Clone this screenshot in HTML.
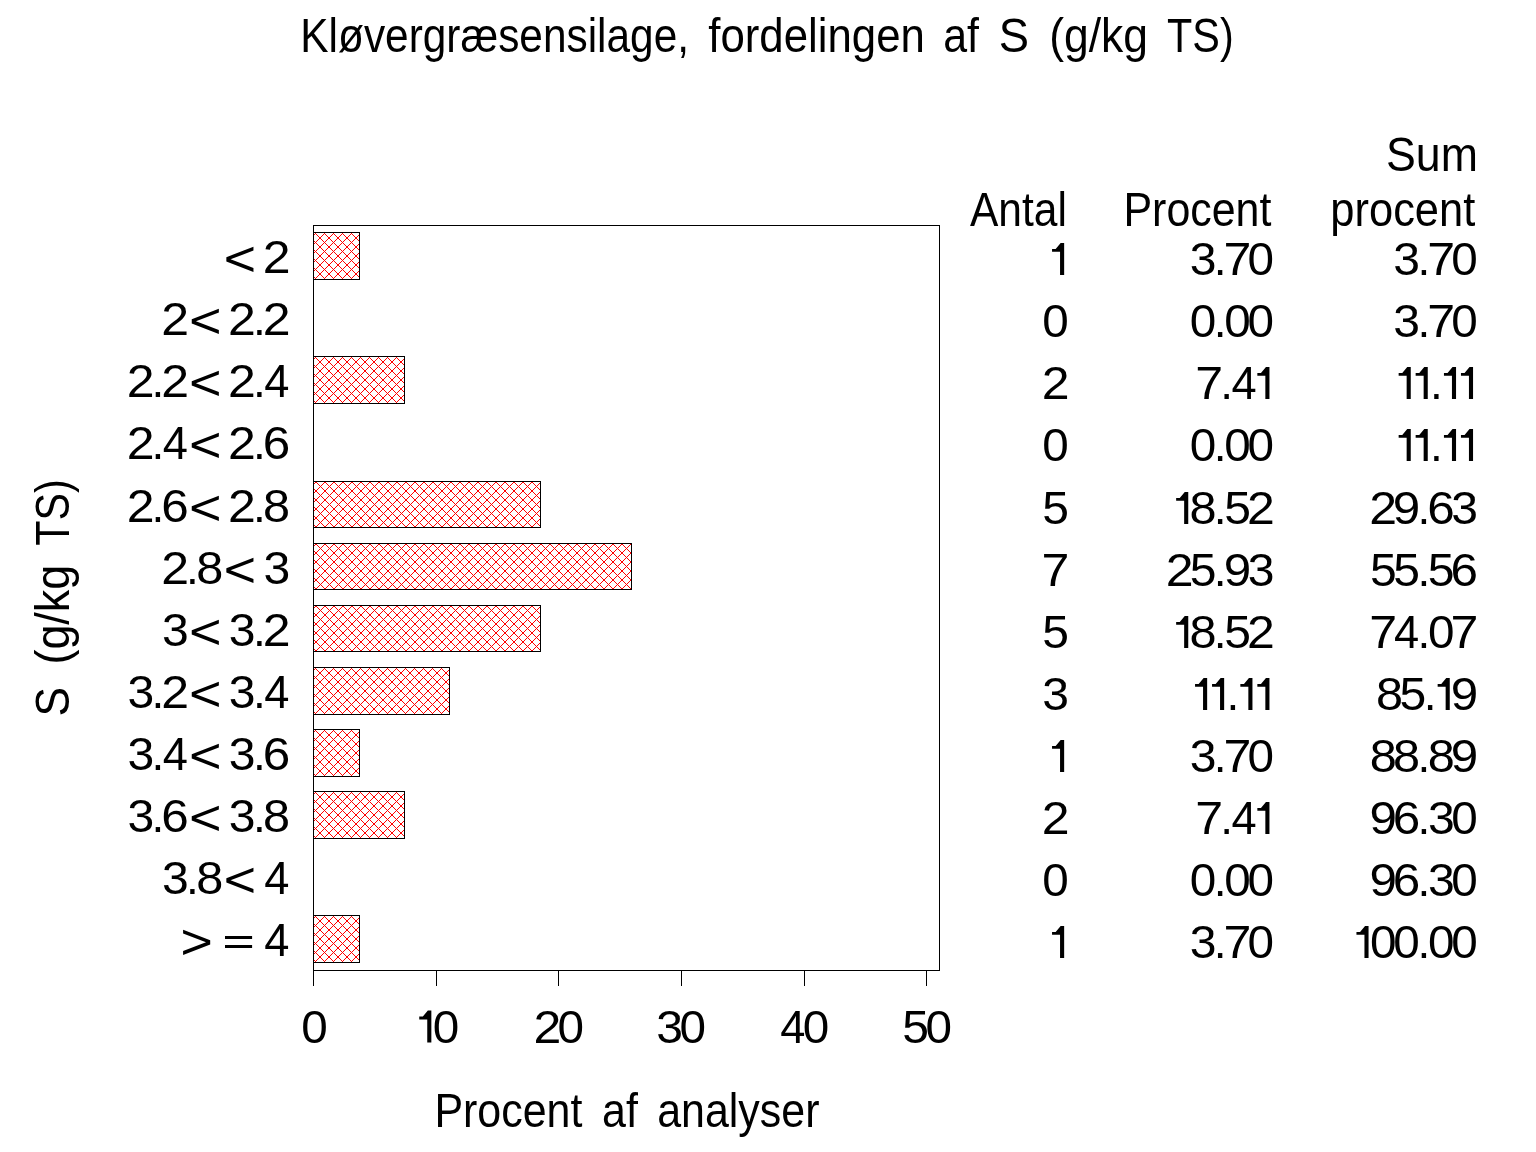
<!DOCTYPE html><html><head><meta charset="utf-8"><style>html,body{margin:0;padding:0;background:#fff;}svg{display:block;will-change:transform;}text{font-family:"Liberation Sans",sans-serif;font-kerning:none;}</style></head><body>
<svg width="1536" height="1152" viewBox="0 0 1536 1152">
<rect width="1536" height="1152" fill="#fff"/>
<defs>
<pattern id="h0" patternUnits="userSpaceOnUse" x="4" y="237" width="9" height="9"><path d="M0 0h1v1h-1zM0 1h1v1h-1zM1 0h1v1h-1zM1 1h1v1h-1zM2 2h1v1h-1zM2 8h1v1h-1zM3 3h1v1h-1zM3 7h1v1h-1zM4 4h1v1h-1zM4 6h1v1h-1zM5 5h1v1h-1zM6 4h1v1h-1zM6 6h1v1h-1zM7 3h1v1h-1zM7 7h1v1h-1zM8 2h1v1h-1zM8 8h1v1h-1z" fill="#f00"/></pattern>
<pattern id="h1" patternUnits="userSpaceOnUse" x="4" y="361" width="9" height="9"><path d="M0 0h1v1h-1zM0 1h1v1h-1zM1 0h1v1h-1zM1 1h1v1h-1zM2 2h1v1h-1zM2 8h1v1h-1zM3 3h1v1h-1zM3 7h1v1h-1zM4 4h1v1h-1zM4 6h1v1h-1zM5 5h1v1h-1zM6 4h1v1h-1zM6 6h1v1h-1zM7 3h1v1h-1zM7 7h1v1h-1zM8 2h1v1h-1zM8 8h1v1h-1z" fill="#f00"/></pattern>
<pattern id="h2" patternUnits="userSpaceOnUse" x="0" y="481" width="9" height="9"><path d="M0 0h1v1h-1zM0 1h1v1h-1zM1 0h1v1h-1zM1 1h1v1h-1zM2 2h1v1h-1zM2 8h1v1h-1zM3 3h1v1h-1zM3 7h1v1h-1zM4 4h1v1h-1zM4 6h1v1h-1zM5 5h1v1h-1zM6 4h1v1h-1zM6 6h1v1h-1zM7 3h1v1h-1zM7 7h1v1h-1zM8 2h1v1h-1zM8 8h1v1h-1z" fill="#f00"/></pattern>
<pattern id="h3" patternUnits="userSpaceOnUse" x="0" y="543" width="9" height="9"><path d="M0 0h1v1h-1zM0 1h1v1h-1zM1 0h1v1h-1zM1 1h1v1h-1zM2 2h1v1h-1zM2 8h1v1h-1zM3 3h1v1h-1zM3 7h1v1h-1zM4 4h1v1h-1zM4 6h1v1h-1zM5 5h1v1h-1zM6 4h1v1h-1zM6 6h1v1h-1zM7 3h1v1h-1zM7 7h1v1h-1zM8 2h1v1h-1zM8 8h1v1h-1z" fill="#f00"/></pattern>
<pattern id="h4" patternUnits="userSpaceOnUse" x="0" y="605" width="9" height="9"><path d="M0 0h1v1h-1zM0 1h1v1h-1zM1 0h1v1h-1zM1 1h1v1h-1zM2 2h1v1h-1zM2 8h1v1h-1zM3 3h1v1h-1zM3 7h1v1h-1zM4 4h1v1h-1zM4 6h1v1h-1zM5 5h1v1h-1zM6 4h1v1h-1zM6 6h1v1h-1zM7 3h1v1h-1zM7 7h1v1h-1zM8 2h1v1h-1zM8 8h1v1h-1z" fill="#f00"/></pattern>
<pattern id="h5" patternUnits="userSpaceOnUse" x="4" y="672" width="9" height="9"><path d="M0 0h1v1h-1zM0 1h1v1h-1zM1 0h1v1h-1zM1 1h1v1h-1zM2 2h1v1h-1zM2 8h1v1h-1zM3 3h1v1h-1zM3 7h1v1h-1zM4 4h1v1h-1zM4 6h1v1h-1zM5 5h1v1h-1zM6 4h1v1h-1zM6 6h1v1h-1zM7 3h1v1h-1zM7 7h1v1h-1zM8 2h1v1h-1zM8 8h1v1h-1z" fill="#f00"/></pattern>
<pattern id="h6" patternUnits="userSpaceOnUse" x="4" y="734" width="9" height="9"><path d="M0 0h1v1h-1zM0 1h1v1h-1zM1 0h1v1h-1zM1 1h1v1h-1zM2 2h1v1h-1zM2 8h1v1h-1zM3 3h1v1h-1zM3 7h1v1h-1zM4 4h1v1h-1zM4 6h1v1h-1zM5 5h1v1h-1zM6 4h1v1h-1zM6 6h1v1h-1zM7 3h1v1h-1zM7 7h1v1h-1zM8 2h1v1h-1zM8 8h1v1h-1z" fill="#f00"/></pattern>
<pattern id="h7" patternUnits="userSpaceOnUse" x="4" y="796" width="9" height="9"><path d="M0 0h1v1h-1zM0 1h1v1h-1zM1 0h1v1h-1zM1 1h1v1h-1zM2 2h1v1h-1zM2 8h1v1h-1zM3 3h1v1h-1zM3 7h1v1h-1zM4 4h1v1h-1zM4 6h1v1h-1zM5 5h1v1h-1zM6 4h1v1h-1zM6 6h1v1h-1zM7 3h1v1h-1zM7 7h1v1h-1zM8 2h1v1h-1zM8 8h1v1h-1z" fill="#f00"/></pattern>
<pattern id="h8" patternUnits="userSpaceOnUse" x="4" y="920" width="9" height="9"><path d="M0 0h1v1h-1zM0 1h1v1h-1zM1 0h1v1h-1zM1 1h1v1h-1zM2 2h1v1h-1zM2 8h1v1h-1zM3 3h1v1h-1zM3 7h1v1h-1zM4 4h1v1h-1zM4 6h1v1h-1zM5 5h1v1h-1zM6 4h1v1h-1zM6 6h1v1h-1zM7 3h1v1h-1zM7 7h1v1h-1zM8 2h1v1h-1zM8 8h1v1h-1z" fill="#f00"/></pattern>
</defs>
<g shape-rendering="crispEdges">
<rect x="313" y="232" width="47" height="48" fill="url(#h0)"/>
<rect x="313.5" y="232.5" width="46" height="47" fill="none" stroke="#000" stroke-width="1"/>
<rect x="313" y="356" width="92" height="48" fill="url(#h1)"/>
<rect x="313.5" y="356.5" width="91" height="47" fill="none" stroke="#000" stroke-width="1"/>
<rect x="313" y="481" width="228" height="47" fill="url(#h2)"/>
<rect x="313.5" y="481.5" width="227" height="46" fill="none" stroke="#000" stroke-width="1"/>
<rect x="313" y="543" width="319" height="47" fill="url(#h3)"/>
<rect x="313.5" y="543.5" width="318" height="46" fill="none" stroke="#000" stroke-width="1"/>
<rect x="313" y="605" width="228" height="47" fill="url(#h4)"/>
<rect x="313.5" y="605.5" width="227" height="46" fill="none" stroke="#000" stroke-width="1"/>
<rect x="313" y="667" width="137" height="48" fill="url(#h5)"/>
<rect x="313.5" y="667.5" width="136" height="47" fill="none" stroke="#000" stroke-width="1"/>
<rect x="313" y="729" width="47" height="48" fill="url(#h6)"/>
<rect x="313.5" y="729.5" width="46" height="47" fill="none" stroke="#000" stroke-width="1"/>
<rect x="313" y="791" width="92" height="48" fill="url(#h7)"/>
<rect x="313.5" y="791.5" width="91" height="47" fill="none" stroke="#000" stroke-width="1"/>
<rect x="313" y="915" width="47" height="48" fill="url(#h8)"/>
<rect x="313.5" y="915.5" width="46" height="47" fill="none" stroke="#000" stroke-width="1"/>
<rect x="313.5" y="225.5" width="626" height="745" fill="none" stroke="#000" stroke-width="1"/>
<line x1="313.5" y1="970" x2="313.5" y2="986" stroke="#000" stroke-width="1"/>
<line x1="436.5" y1="970" x2="436.5" y2="986" stroke="#000" stroke-width="1"/>
<line x1="558.5" y1="970" x2="558.5" y2="986" stroke="#000" stroke-width="1"/>
<line x1="681.5" y1="970" x2="681.5" y2="986" stroke="#000" stroke-width="1"/>
<line x1="804.5" y1="970" x2="804.5" y2="986" stroke="#000" stroke-width="1"/>
<line x1="926.5" y1="970" x2="926.5" y2="986" stroke="#000" stroke-width="1"/>
</g>
<g fill="#000">
<text x="300.32" y="52" font-size="48.0" textLength="388.68" lengthAdjust="spacingAndGlyphs">Kløvergræsensilage,</text>
<text x="708.28" y="52" font-size="48.0" textLength="216.66" lengthAdjust="spacingAndGlyphs">fordelingen</text>
<text x="943.18" y="52" font-size="48.0" textLength="35.76" lengthAdjust="spacingAndGlyphs">af</text>
<text x="998.74" y="52" font-size="48.0" textLength="30.24" lengthAdjust="spacingAndGlyphs">S</text>
<text x="1049.24" y="52" font-size="48.0" textLength="98.82" lengthAdjust="spacingAndGlyphs">(g/kg</text>
<text x="1167.07" y="52" font-size="48.0" textLength="66.59" lengthAdjust="spacingAndGlyphs">TS)</text>
<text x="1386.07" y="170.7" font-size="48.0" textLength="91.87" lengthAdjust="spacingAndGlyphs">Sum</text>
<text x="969.92" y="225.8" font-size="48.0" textLength="96.93" lengthAdjust="spacingAndGlyphs">Antal</text>
<text x="1123.48" y="225.8" font-size="48.0" textLength="147.94" lengthAdjust="spacingAndGlyphs">Procent</text>
<text x="1330.3" y="225.8" font-size="48.0" textLength="145.02" lengthAdjust="spacingAndGlyphs">procent</text>
<text x="434.38" y="1127" font-size="48.0" textLength="148.04" lengthAdjust="spacingAndGlyphs">Procent</text>
<text x="602.07" y="1127" font-size="48.0" textLength="35.86" lengthAdjust="spacingAndGlyphs">af</text>
<text x="657.18" y="1127" font-size="48.0" textLength="162.34" lengthAdjust="spacingAndGlyphs">analyser</text>
<text transform="translate(69,0) rotate(-90)" x="-716.5" y="0" font-size="48.0" textLength="29.43" lengthAdjust="spacingAndGlyphs">S</text>
<text transform="translate(69,0) rotate(-90)" x="-664.59" y="0" font-size="48.0" textLength="99.88" lengthAdjust="spacingAndGlyphs">(g/kg</text>
<text transform="translate(69,0) rotate(-90)" x="-545.63" y="0" font-size="48.0" textLength="66.38" lengthAdjust="spacingAndGlyphs">TS)</text>
<text transform="translate(314.5,1042.5) scale(1.0369,1)" x="-12.79" font-size="46.0">0</text>
<text transform="translate(446.05,1042.5) scale(1.0369,1)" x="-12.79" font-size="46.0">0</text>
<path d="M419.25 1016.6 L422.85 1016.6 L427.85 1010.5 L431.35 1010.5 L431.35 1042.5 L427.25 1042.5 L427.25 1019.4 L419.25 1019.4Z"/>
<text transform="translate(570.7,1042.5) scale(1.0369,1)" x="-12.79" font-size="46.0">0</text>
<text transform="translate(547.4,1042.5) scale(1.0880,1)" x="-12.79" font-size="46.0">2</text>
<text transform="translate(692.7,1042.5) scale(1.0369,1)" x="-12.79" font-size="46.0">0</text>
<text transform="translate(669.4,1042.5) scale(1.0454,1)" x="-12.66" font-size="46.0">3</text>
<text transform="translate(816.1,1042.5) scale(1.0369,1)" x="-12.79" font-size="46.0">0</text>
<text transform="translate(792.8,1042.5) scale(0.9836,1)" x="-12.65" font-size="46.0">4</text>
<text transform="translate(938.75,1042.5) scale(1.0369,1)" x="-12.79" font-size="46.0">0</text>
<text transform="translate(915.45,1042.5) scale(1.0454,1)" x="-12.75" font-size="46.0">5</text>
<text transform="translate(276.6,273) scale(1.0880,1)" x="-12.79" font-size="46.0">2</text>
<path d="M253.45 246.8 L226.35 257.15 L226.35 261.55 L253.45 271.9 L253.45 268.1 L230.54 259.35 L253.45 250.6Z"/>
<text transform="translate(276.6,335) scale(1.0880,1)" x="-12.79" font-size="46.0">2</text>
<text x="252.91" y="335" font-size="46.0">.</text>
<text transform="translate(242,335) scale(1.0880,1)" x="-12.79" font-size="46.0">2</text>
<path d="M218.85 308.8 L191.75 319.15 L191.75 323.55 L218.85 333.9 L218.85 330.1 L195.94 321.35 L218.85 312.6Z"/>
<text transform="translate(175.2,335) scale(1.0880,1)" x="-12.79" font-size="46.0">2</text>
<text transform="translate(276.6,397) scale(0.9836,1)" x="-12.65" font-size="46.0">4</text>
<text x="252.91" y="397" font-size="46.0">.</text>
<text transform="translate(242,397) scale(1.0880,1)" x="-12.79" font-size="46.0">2</text>
<path d="M218.85 370.8 L191.75 381.15 L191.75 385.55 L218.85 395.9 L218.85 392.1 L195.94 383.35 L218.85 374.6Z"/>
<text transform="translate(175.2,397) scale(1.0880,1)" x="-12.79" font-size="46.0">2</text>
<text x="151.51" y="397" font-size="46.0">.</text>
<text transform="translate(140.6,397) scale(1.0880,1)" x="-12.79" font-size="46.0">2</text>
<text transform="translate(276.6,459) scale(1.0742,1)" x="-12.95" font-size="46.0">6</text>
<text x="252.91" y="459" font-size="46.0">.</text>
<text transform="translate(242,459) scale(1.0880,1)" x="-12.79" font-size="46.0">2</text>
<path d="M218.85 432.8 L191.75 443.15 L191.75 447.55 L218.85 457.9 L218.85 454.1 L195.94 445.35 L218.85 436.6Z"/>
<text transform="translate(175.2,459) scale(0.9836,1)" x="-12.65" font-size="46.0">4</text>
<text x="151.51" y="459" font-size="46.0">.</text>
<text transform="translate(140.6,459) scale(1.0880,1)" x="-12.79" font-size="46.0">2</text>
<text transform="translate(276.6,522) scale(1.0563,1)" x="-12.79" font-size="46.0">8</text>
<text x="252.91" y="522" font-size="46.0">.</text>
<text transform="translate(242,522) scale(1.0880,1)" x="-12.79" font-size="46.0">2</text>
<path d="M218.85 495.8 L191.75 506.15 L191.75 510.55 L218.85 520.9 L218.85 517.1 L195.94 508.35 L218.85 499.6Z"/>
<text transform="translate(175.2,522) scale(1.0742,1)" x="-12.95" font-size="46.0">6</text>
<text x="151.51" y="522" font-size="46.0">.</text>
<text transform="translate(140.6,522) scale(1.0880,1)" x="-12.79" font-size="46.0">2</text>
<text transform="translate(276.6,584) scale(1.0454,1)" x="-12.66" font-size="46.0">3</text>
<path d="M253.45 557.8 L226.35 568.15 L226.35 572.55 L253.45 582.9 L253.45 579.1 L230.54 570.35 L253.45 561.6Z"/>
<text transform="translate(209.8,584) scale(1.0563,1)" x="-12.79" font-size="46.0">8</text>
<text x="186.11" y="584" font-size="46.0">.</text>
<text transform="translate(175.2,584) scale(1.0880,1)" x="-12.79" font-size="46.0">2</text>
<text transform="translate(276.6,646) scale(1.0880,1)" x="-12.79" font-size="46.0">2</text>
<text x="252.91" y="646" font-size="46.0">.</text>
<text transform="translate(242,646) scale(1.0454,1)" x="-12.66" font-size="46.0">3</text>
<path d="M218.85 619.8 L191.75 630.15 L191.75 634.55 L218.85 644.9 L218.85 641.1 L195.94 632.35 L218.85 623.6Z"/>
<text transform="translate(175.2,646) scale(1.0454,1)" x="-12.66" font-size="46.0">3</text>
<text transform="translate(276.6,708) scale(0.9836,1)" x="-12.65" font-size="46.0">4</text>
<text x="252.91" y="708" font-size="46.0">.</text>
<text transform="translate(242,708) scale(1.0454,1)" x="-12.66" font-size="46.0">3</text>
<path d="M218.85 681.8 L191.75 692.15 L191.75 696.55 L218.85 706.9 L218.85 703.1 L195.94 694.35 L218.85 685.6Z"/>
<text transform="translate(175.2,708) scale(1.0880,1)" x="-12.79" font-size="46.0">2</text>
<text x="151.51" y="708" font-size="46.0">.</text>
<text transform="translate(140.6,708) scale(1.0454,1)" x="-12.66" font-size="46.0">3</text>
<text transform="translate(276.6,770) scale(1.0742,1)" x="-12.95" font-size="46.0">6</text>
<text x="252.91" y="770" font-size="46.0">.</text>
<text transform="translate(242,770) scale(1.0454,1)" x="-12.66" font-size="46.0">3</text>
<path d="M218.85 743.8 L191.75 754.15 L191.75 758.55 L218.85 768.9 L218.85 765.1 L195.94 756.35 L218.85 747.6Z"/>
<text transform="translate(175.2,770) scale(0.9836,1)" x="-12.65" font-size="46.0">4</text>
<text x="151.51" y="770" font-size="46.0">.</text>
<text transform="translate(140.6,770) scale(1.0454,1)" x="-12.66" font-size="46.0">3</text>
<text transform="translate(276.6,832) scale(1.0563,1)" x="-12.79" font-size="46.0">8</text>
<text x="252.91" y="832" font-size="46.0">.</text>
<text transform="translate(242,832) scale(1.0454,1)" x="-12.66" font-size="46.0">3</text>
<path d="M218.85 805.8 L191.75 816.15 L191.75 820.55 L218.85 830.9 L218.85 827.1 L195.94 818.35 L218.85 809.6Z"/>
<text transform="translate(175.2,832) scale(1.0742,1)" x="-12.95" font-size="46.0">6</text>
<text x="151.51" y="832" font-size="46.0">.</text>
<text transform="translate(140.6,832) scale(1.0454,1)" x="-12.66" font-size="46.0">3</text>
<text transform="translate(276.6,894) scale(0.9836,1)" x="-12.65" font-size="46.0">4</text>
<path d="M253.45 867.8 L226.35 878.15 L226.35 882.55 L253.45 892.9 L253.45 889.1 L230.54 880.35 L253.45 871.6Z"/>
<text transform="translate(209.8,894) scale(1.0563,1)" x="-12.79" font-size="46.0">8</text>
<text x="186.11" y="894" font-size="46.0">.</text>
<text transform="translate(175.2,894) scale(1.0454,1)" x="-12.66" font-size="46.0">3</text>
<text transform="translate(276.6,956) scale(0.9836,1)" x="-12.65" font-size="46.0">4</text>
<rect x="225" y="936" width="27.1" height="3"/>
<rect x="225" y="945" width="27.1" height="3"/>
<path d="M183.1 929.8 L210.2 940.15 L210.2 944.55 L183.1 954.9 L183.1 951.1 L206.01 942.35 L183.1 933.6Z"/>
<path d="M1052.05 249 L1055.65 249 L1060.65 242.9 L1064.15 242.9 L1064.15 274.9 L1060.05 274.9 L1060.05 251.8 L1052.05 251.8Z"/>
<text transform="translate(1260.85,274.9) scale(1.0369,1)" x="-12.79" font-size="46.0">0</text>
<text transform="translate(1237.55,274.9) scale(1.0903,1)" x="-12.81" font-size="46.0">7</text>
<text x="1213.86" y="274.9" font-size="46.0">.</text>
<text transform="translate(1202.95,274.9) scale(1.0454,1)" x="-12.66" font-size="46.0">3</text>
<text transform="translate(1464.45,274.9) scale(1.0369,1)" x="-12.79" font-size="46.0">0</text>
<text transform="translate(1441.15,274.9) scale(1.0903,1)" x="-12.81" font-size="46.0">7</text>
<text x="1417.46" y="274.9" font-size="46.0">.</text>
<text transform="translate(1406.55,274.9) scale(1.0454,1)" x="-12.66" font-size="46.0">3</text>
<text transform="translate(1055.55,336.9) scale(1.0369,1)" x="-12.79" font-size="46.0">0</text>
<text transform="translate(1260.85,336.9) scale(1.0369,1)" x="-12.79" font-size="46.0">0</text>
<text transform="translate(1237.55,336.9) scale(1.0369,1)" x="-12.79" font-size="46.0">0</text>
<text x="1213.86" y="336.9" font-size="46.0">.</text>
<text transform="translate(1202.95,336.9) scale(1.0369,1)" x="-12.79" font-size="46.0">0</text>
<text transform="translate(1464.45,336.9) scale(1.0369,1)" x="-12.79" font-size="46.0">0</text>
<text transform="translate(1441.15,336.9) scale(1.0903,1)" x="-12.81" font-size="46.0">7</text>
<text x="1417.46" y="336.9" font-size="46.0">.</text>
<text transform="translate(1406.55,336.9) scale(1.0454,1)" x="-12.66" font-size="46.0">3</text>
<text transform="translate(1055.55,398.9) scale(1.0880,1)" x="-12.79" font-size="46.0">2</text>
<path d="M1257.35 373 L1260.95 373 L1265.95 366.9 L1269.45 366.9 L1269.45 398.9 L1265.35 398.9 L1265.35 375.8 L1257.35 375.8Z"/>
<text transform="translate(1243.85,398.9) scale(0.9836,1)" x="-12.65" font-size="46.0">4</text>
<text x="1220.16" y="398.9" font-size="46.0">.</text>
<text transform="translate(1209.25,398.9) scale(1.0903,1)" x="-12.81" font-size="46.0">7</text>
<path d="M1460.95 373 L1464.55 373 L1469.55 366.9 L1473.05 366.9 L1473.05 398.9 L1468.95 398.9 L1468.95 375.8 L1460.95 375.8Z"/>
<path d="M1443.95 373 L1447.55 373 L1452.55 366.9 L1456.05 366.9 L1456.05 398.9 L1451.95 398.9 L1451.95 375.8 L1443.95 375.8Z"/>
<text x="1430.06" y="398.9" font-size="46.0">.</text>
<path d="M1415.65 373 L1419.25 373 L1424.25 366.9 L1427.75 366.9 L1427.75 398.9 L1423.65 398.9 L1423.65 375.8 L1415.65 375.8Z"/>
<path d="M1398.65 373 L1402.25 373 L1407.25 366.9 L1410.75 366.9 L1410.75 398.9 L1406.65 398.9 L1406.65 375.8 L1398.65 375.8Z"/>
<text transform="translate(1055.55,460.9) scale(1.0369,1)" x="-12.79" font-size="46.0">0</text>
<text transform="translate(1260.85,460.9) scale(1.0369,1)" x="-12.79" font-size="46.0">0</text>
<text transform="translate(1237.55,460.9) scale(1.0369,1)" x="-12.79" font-size="46.0">0</text>
<text x="1213.86" y="460.9" font-size="46.0">.</text>
<text transform="translate(1202.95,460.9) scale(1.0369,1)" x="-12.79" font-size="46.0">0</text>
<path d="M1460.95 435 L1464.55 435 L1469.55 428.9 L1473.05 428.9 L1473.05 460.9 L1468.95 460.9 L1468.95 437.8 L1460.95 437.8Z"/>
<path d="M1443.95 435 L1447.55 435 L1452.55 428.9 L1456.05 428.9 L1456.05 460.9 L1451.95 460.9 L1451.95 437.8 L1443.95 437.8Z"/>
<text x="1430.06" y="460.9" font-size="46.0">.</text>
<path d="M1415.65 435 L1419.25 435 L1424.25 428.9 L1427.75 428.9 L1427.75 460.9 L1423.65 460.9 L1423.65 437.8 L1415.65 437.8Z"/>
<path d="M1398.65 435 L1402.25 435 L1407.25 428.9 L1410.75 428.9 L1410.75 460.9 L1406.65 460.9 L1406.65 437.8 L1398.65 437.8Z"/>
<text transform="translate(1055.55,523.9) scale(1.0454,1)" x="-12.75" font-size="46.0">5</text>
<text transform="translate(1260.85,523.9) scale(1.0880,1)" x="-12.79" font-size="46.0">2</text>
<text transform="translate(1237.55,523.9) scale(1.0454,1)" x="-12.75" font-size="46.0">5</text>
<text x="1213.86" y="523.9" font-size="46.0">.</text>
<text transform="translate(1202.95,523.9) scale(1.0563,1)" x="-12.79" font-size="46.0">8</text>
<path d="M1176.15 498 L1179.75 498 L1184.75 491.9 L1188.25 491.9 L1188.25 523.9 L1184.15 523.9 L1184.15 500.8 L1176.15 500.8Z"/>
<text transform="translate(1464.45,523.9) scale(1.0454,1)" x="-12.66" font-size="46.0">3</text>
<text transform="translate(1441.15,523.9) scale(1.0742,1)" x="-12.95" font-size="46.0">6</text>
<text x="1417.46" y="523.9" font-size="46.0">.</text>
<text transform="translate(1406.55,523.9) scale(1.0730,1)" x="-12.78" font-size="46.0">9</text>
<text transform="translate(1383.25,523.9) scale(1.0880,1)" x="-12.79" font-size="46.0">2</text>
<text transform="translate(1055.55,585.9) scale(1.0903,1)" x="-12.81" font-size="46.0">7</text>
<text transform="translate(1260.85,585.9) scale(1.0454,1)" x="-12.66" font-size="46.0">3</text>
<text transform="translate(1237.55,585.9) scale(1.0730,1)" x="-12.78" font-size="46.0">9</text>
<text x="1213.86" y="585.9" font-size="46.0">.</text>
<text transform="translate(1202.95,585.9) scale(1.0454,1)" x="-12.75" font-size="46.0">5</text>
<text transform="translate(1179.65,585.9) scale(1.0880,1)" x="-12.79" font-size="46.0">2</text>
<text transform="translate(1464.45,585.9) scale(1.0742,1)" x="-12.95" font-size="46.0">6</text>
<text transform="translate(1441.15,585.9) scale(1.0454,1)" x="-12.75" font-size="46.0">5</text>
<text x="1417.46" y="585.9" font-size="46.0">.</text>
<text transform="translate(1406.55,585.9) scale(1.0454,1)" x="-12.75" font-size="46.0">5</text>
<text transform="translate(1383.25,585.9) scale(1.0454,1)" x="-12.75" font-size="46.0">5</text>
<text transform="translate(1055.55,647.9) scale(1.0454,1)" x="-12.75" font-size="46.0">5</text>
<text transform="translate(1260.85,647.9) scale(1.0880,1)" x="-12.79" font-size="46.0">2</text>
<text transform="translate(1237.55,647.9) scale(1.0454,1)" x="-12.75" font-size="46.0">5</text>
<text x="1213.86" y="647.9" font-size="46.0">.</text>
<text transform="translate(1202.95,647.9) scale(1.0563,1)" x="-12.79" font-size="46.0">8</text>
<path d="M1176.15 622 L1179.75 622 L1184.75 615.9 L1188.25 615.9 L1188.25 647.9 L1184.15 647.9 L1184.15 624.8 L1176.15 624.8Z"/>
<text transform="translate(1464.45,647.9) scale(1.0903,1)" x="-12.81" font-size="46.0">7</text>
<text transform="translate(1441.15,647.9) scale(1.0369,1)" x="-12.79" font-size="46.0">0</text>
<text x="1417.46" y="647.9" font-size="46.0">.</text>
<text transform="translate(1406.55,647.9) scale(0.9836,1)" x="-12.65" font-size="46.0">4</text>
<text transform="translate(1383.25,647.9) scale(1.0903,1)" x="-12.81" font-size="46.0">7</text>
<text transform="translate(1055.55,709.9) scale(1.0454,1)" x="-12.66" font-size="46.0">3</text>
<path d="M1257.35 684 L1260.95 684 L1265.95 677.9 L1269.45 677.9 L1269.45 709.9 L1265.35 709.9 L1265.35 686.8 L1257.35 686.8Z"/>
<path d="M1240.35 684 L1243.95 684 L1248.95 677.9 L1252.45 677.9 L1252.45 709.9 L1248.35 709.9 L1248.35 686.8 L1240.35 686.8Z"/>
<text x="1226.46" y="709.9" font-size="46.0">.</text>
<path d="M1212.05 684 L1215.65 684 L1220.65 677.9 L1224.15 677.9 L1224.15 709.9 L1220.05 709.9 L1220.05 686.8 L1212.05 686.8Z"/>
<path d="M1195.05 684 L1198.65 684 L1203.65 677.9 L1207.15 677.9 L1207.15 709.9 L1203.05 709.9 L1203.05 686.8 L1195.05 686.8Z"/>
<text transform="translate(1464.45,709.9) scale(1.0730,1)" x="-12.78" font-size="46.0">9</text>
<path d="M1437.65 684 L1441.25 684 L1446.25 677.9 L1449.75 677.9 L1449.75 709.9 L1445.65 709.9 L1445.65 686.8 L1437.65 686.8Z"/>
<text x="1423.76" y="709.9" font-size="46.0">.</text>
<text transform="translate(1412.85,709.9) scale(1.0454,1)" x="-12.75" font-size="46.0">5</text>
<text transform="translate(1389.55,709.9) scale(1.0563,1)" x="-12.79" font-size="46.0">8</text>
<path d="M1052.05 746 L1055.65 746 L1060.65 739.9 L1064.15 739.9 L1064.15 771.9 L1060.05 771.9 L1060.05 748.8 L1052.05 748.8Z"/>
<text transform="translate(1260.85,771.9) scale(1.0369,1)" x="-12.79" font-size="46.0">0</text>
<text transform="translate(1237.55,771.9) scale(1.0903,1)" x="-12.81" font-size="46.0">7</text>
<text x="1213.86" y="771.9" font-size="46.0">.</text>
<text transform="translate(1202.95,771.9) scale(1.0454,1)" x="-12.66" font-size="46.0">3</text>
<text transform="translate(1464.45,771.9) scale(1.0730,1)" x="-12.78" font-size="46.0">9</text>
<text transform="translate(1441.15,771.9) scale(1.0563,1)" x="-12.79" font-size="46.0">8</text>
<text x="1417.46" y="771.9" font-size="46.0">.</text>
<text transform="translate(1406.55,771.9) scale(1.0563,1)" x="-12.79" font-size="46.0">8</text>
<text transform="translate(1383.25,771.9) scale(1.0563,1)" x="-12.79" font-size="46.0">8</text>
<text transform="translate(1055.55,833.9) scale(1.0880,1)" x="-12.79" font-size="46.0">2</text>
<path d="M1257.35 808 L1260.95 808 L1265.95 801.9 L1269.45 801.9 L1269.45 833.9 L1265.35 833.9 L1265.35 810.8 L1257.35 810.8Z"/>
<text transform="translate(1243.85,833.9) scale(0.9836,1)" x="-12.65" font-size="46.0">4</text>
<text x="1220.16" y="833.9" font-size="46.0">.</text>
<text transform="translate(1209.25,833.9) scale(1.0903,1)" x="-12.81" font-size="46.0">7</text>
<text transform="translate(1464.45,833.9) scale(1.0369,1)" x="-12.79" font-size="46.0">0</text>
<text transform="translate(1441.15,833.9) scale(1.0454,1)" x="-12.66" font-size="46.0">3</text>
<text x="1417.46" y="833.9" font-size="46.0">.</text>
<text transform="translate(1406.55,833.9) scale(1.0742,1)" x="-12.95" font-size="46.0">6</text>
<text transform="translate(1383.25,833.9) scale(1.0730,1)" x="-12.78" font-size="46.0">9</text>
<text transform="translate(1055.55,895.9) scale(1.0369,1)" x="-12.79" font-size="46.0">0</text>
<text transform="translate(1260.85,895.9) scale(1.0369,1)" x="-12.79" font-size="46.0">0</text>
<text transform="translate(1237.55,895.9) scale(1.0369,1)" x="-12.79" font-size="46.0">0</text>
<text x="1213.86" y="895.9" font-size="46.0">.</text>
<text transform="translate(1202.95,895.9) scale(1.0369,1)" x="-12.79" font-size="46.0">0</text>
<text transform="translate(1464.45,895.9) scale(1.0369,1)" x="-12.79" font-size="46.0">0</text>
<text transform="translate(1441.15,895.9) scale(1.0454,1)" x="-12.66" font-size="46.0">3</text>
<text x="1417.46" y="895.9" font-size="46.0">.</text>
<text transform="translate(1406.55,895.9) scale(1.0742,1)" x="-12.95" font-size="46.0">6</text>
<text transform="translate(1383.25,895.9) scale(1.0730,1)" x="-12.78" font-size="46.0">9</text>
<path d="M1052.05 932 L1055.65 932 L1060.65 925.9 L1064.15 925.9 L1064.15 957.9 L1060.05 957.9 L1060.05 934.8 L1052.05 934.8Z"/>
<text transform="translate(1260.85,957.9) scale(1.0369,1)" x="-12.79" font-size="46.0">0</text>
<text transform="translate(1237.55,957.9) scale(1.0903,1)" x="-12.81" font-size="46.0">7</text>
<text x="1213.86" y="957.9" font-size="46.0">.</text>
<text transform="translate(1202.95,957.9) scale(1.0454,1)" x="-12.66" font-size="46.0">3</text>
<text transform="translate(1464.45,957.9) scale(1.0369,1)" x="-12.79" font-size="46.0">0</text>
<text transform="translate(1441.15,957.9) scale(1.0369,1)" x="-12.79" font-size="46.0">0</text>
<text x="1417.46" y="957.9" font-size="46.0">.</text>
<text transform="translate(1406.55,957.9) scale(1.0369,1)" x="-12.79" font-size="46.0">0</text>
<text transform="translate(1383.25,957.9) scale(1.0369,1)" x="-12.79" font-size="46.0">0</text>
<path d="M1356.45 932 L1360.05 932 L1365.05 925.9 L1368.55 925.9 L1368.55 957.9 L1364.45 957.9 L1364.45 934.8 L1356.45 934.8Z"/>
</g>
</svg></body></html>
